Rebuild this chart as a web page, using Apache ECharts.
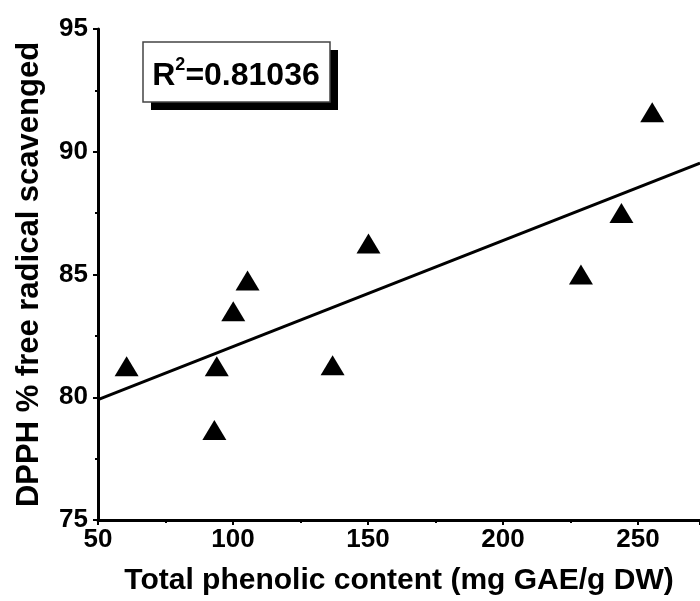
<!DOCTYPE html>
<html>
<head>
<meta charset="utf-8">
<script src="https://cdn.jsdelivr.net/npm/echarts@6/dist/echarts.min.js"></script>
<style>
  html, body { margin: 0; padding: 0; background: #fff; }
  #main { width: 700px; height: 601px; }
</style>
</head>
<body>
<div id="main"></div>
<script>
// 总酚含量 vs DPPH 清除率
var phenolic = [60.6, 94.0, 93.1, 100.1, 105.4, 136.9, 150.2, 255.3, 243.9, 228.9];
var dpph = [81.26, 81.26, 78.67, 83.5, 84.76, 81.3, 86.26, 91.61, 87.51, 85.0];
// 拟合直线两端
var fitX = [50, 273];
var fitY = [79.9, 89.54];
var r2Text = '0.81036';

var font = 'Liberation Sans, Arial, sans-serif';

var points = [];
for (var i = 0; i < phenolic.length; i++) {
  points.push([phenolic[i], dpph[i]]);
}
var fitLine = [];
for (var j = 0; j < fitX.length; j++) {
  fitLine.push([fitX[j], fitY[j]]);
}

var chart = echarts.init(document.getElementById('main'));

var option = {
  backgroundColor: '#fff',
  animation: false,
  grid: { left: 98, top: 29, right: 0, bottom: 80 },
  xAxis: {
    type: 'value',
    min: 50,
    max: 273,
    interval: 50,
    name: 'Total phenolic content (mg GAE/g DW)',
    nameLocation: 'middle',
    nameGap: 46,
    nameTextStyle: { fontFamily: font, fontWeight: 'bold', fontSize: 30, color: '#000' },
    axisLine: { lineStyle: { color: '#000', width: 3 } },
    axisTick: { inside: false, length: 5, lineStyle: { color: '#000', width: 2 } },
    minorTick: { show: true, splitNumber: 2, length: 3, lineStyle: { color: '#000', width: 2 } },
    axisLabel: {
      margin: 7,
      fontFamily: font, fontWeight: 'bold', fontSize: 26, color: '#000',
      showMaxLabel: false,
      formatter: function (v) { return v % 50 === 0 ? String(v) : ''; }
    },
    splitLine: { show: false }
  },
  yAxis: {
    type: 'value',
    min: 75,
    max: 95,
    interval: 5,
    name: 'DPPH % free radical scavenged',
    nameLocation: 'middle',
    nameGap: 53,
    nameTextStyle: { fontFamily: font, fontWeight: 'bold', fontSize: 31, color: '#000' },
    axisLine: { show: true, lineStyle: { color: '#000', width: 3 } },
    axisTick: { show: true, inside: false, length: 5, lineStyle: { color: '#000', width: 2 } },
    minorTick: { show: true, splitNumber: 2, length: 3, lineStyle: { color: '#000', width: 2 } },
    axisLabel: { margin: 10, fontFamily: font, fontWeight: 'bold', fontSize: 26, color: '#000' },
    splitLine: { show: false }
  },
  series: [
    {
      type: 'line',
      data: fitLine,
      symbol: 'none',
      lineStyle: { color: '#000', width: 3 },
      z: 2
    },
    {
      type: 'scatter',
      data: points,
      symbol: 'triangle',
      symbolSize: [24, 20],
      itemStyle: { color: '#000', opacity: 1 },
      z: 3
    }
  ],
  graphic: [
    // 阴影
    { type: 'rect', shape: { x: 151, y: 50, width: 187, height: 60 }, style: { fill: '#000' }, z: 10 },
    { type: 'rect', shape: { x: 143, y: 42, width: 187, height: 60 },
      style: { fill: '#fff', stroke: '#444', lineWidth: 1.5 }, z: 11 },
    {
      type: 'text', x: 236, y: 74, z: 12,
      style: {
        text: '{a|R}{s|2}{a|=' + r2Text + '}',
        align: 'center',
        verticalAlign: 'middle',
        rich: {
          a: { fontFamily: font, fontWeight: 'bold', fontSize: 32, lineHeight: 36, color: '#000', verticalAlign: 'bottom' },
          s: { fontFamily: font, fontWeight: 'bold', fontSize: 18, lineHeight: 18, color: '#000', verticalAlign: 'top' }
        }
      }
    }
  ]
};

chart.setOption(option);
</script>
</body>
</html>
